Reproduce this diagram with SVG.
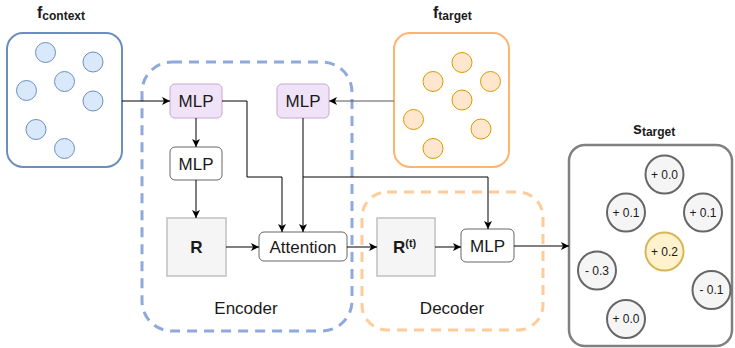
<svg xmlns="http://www.w3.org/2000/svg" width="735" height="348" viewBox="0 0 735 348">
<defs>
<marker id="arr" markerWidth="10" markerHeight="10" refX="8" refY="4" orient="auto" markerUnits="userSpaceOnUse">
<path d="M0,0 L8,4 L0,8 L2,4 z" fill="#000"/>
</marker>
<style>
text{font-family:"Liberation Sans",Arial,sans-serif;fill:#1a1a1a}
.lbl{font-size:17px;text-anchor:middle}
.t{font-weight:bold}
.cb{fill:#dae8fc;stroke:#6c8ebf;stroke-width:1}
.co{fill:#ffe6cc;stroke:#d79b00;stroke-width:1}
.cs{fill:#f5f5f5;stroke:#666;stroke-width:2}
.cy{fill:#fff2cc;stroke:#d6b656;stroke-width:2}
.ct{font-size:12px;text-anchor:middle}
.mp{fill:#f1e3f7;stroke:#c8a6d6;stroke-width:1}
.mw{fill:#fff;stroke:#666;stroke-width:1}
.rb{fill:#f5f5f5;stroke:#c0c0c0;stroke-width:1.5}
.e{fill:none;stroke:#000;stroke-width:1;marker-end:url(#arr)}
</style>
</defs>

<g id="encoder">
<rect x="142" y="62" width="210" height="269" rx="30" fill="none" stroke="#8ea9db" stroke-width="3" stroke-dasharray="10 7"/>
<text class="lbl" x="246" y="314">Encoder</text>
</g>
<g id="decoder">
<rect x="362" y="192" width="181" height="138" rx="25" fill="none" stroke="#ffcc99" stroke-width="3" stroke-dasharray="10 7"/>
<text class="lbl" x="452" y="314">Decoder</text>
</g>

<g id="f-context">
<text x="37" y="18" class="t" style="font-size:16px">f<tspan dy="2" style="font-size:12px">context</tspan></text>
<rect x="7" y="33" width="115" height="134" rx="16" fill="#fff" stroke="#6c8ebf" stroke-width="2"/>
<circle class="cb" cx="45.5" cy="52.5" r="10"/>
<circle class="cb" cx="93" cy="62" r="10"/>
<circle class="cb" cx="64.5" cy="81.5" r="10"/>
<circle class="cb" cx="26.5" cy="90.5" r="10"/>
<circle class="cb" cx="93" cy="101" r="10"/>
<circle class="cb" cx="36" cy="129.5" r="10"/>
<circle class="cb" cx="64.5" cy="148.5" r="10"/>
</g>

<g id="f-target">
<text x="433" y="18" class="t" style="font-size:16px">f<tspan dy="2" style="font-size:12px">target</tspan></text>
<rect x="394" y="33" width="115" height="134" rx="16" fill="#fff" stroke="#ffb570" stroke-width="2"/>
<circle class="co" cx="462" cy="62.5" r="10"/>
<circle class="co" cx="433" cy="81.5" r="10"/>
<circle class="co" cx="490.5" cy="81.5" r="10"/>
<circle class="co" cx="462" cy="100" r="10"/>
<circle class="co" cx="413.5" cy="119.5" r="10"/>
<circle class="co" cx="481" cy="129" r="10"/>
<circle class="co" cx="433" cy="148.5" r="10"/>
</g>

<g id="s-target">
<text x="633" y="134" class="t" style="font-size:16px">s<tspan dy="2" style="font-size:12px">target</tspan></text>
<rect x="569" y="145" width="163" height="201" rx="16" fill="#fff" stroke="#808080" stroke-width="2.5"/>
<circle class="cs" cx="664.5" cy="174.5" r="19"/><text class="ct" x="664.5" y="178.5">+ 0.0</text>
<circle class="cs" cx="626" cy="212.5" r="19"/><text class="ct" x="626" y="216.5">+ 0.1</text>
<circle class="cs" cx="703" cy="212.5" r="19"/><text class="ct" x="703" y="216.5">+ 0.1</text>
<circle class="cy" cx="664.5" cy="251.5" r="19"/><text class="ct" x="664.5" y="255.5">+ 0.2</text>
<circle class="cs" cx="597" cy="270.5" r="19"/><text class="ct" x="597" y="274.5">- 0.3</text>
<circle class="cs" cx="711.5" cy="290" r="19"/><text class="ct" x="711.5" y="294">- 0.1</text>
<circle class="cs" cx="626" cy="319" r="19"/><text class="ct" x="626" y="323">+ 0.0</text>
</g>

<g id="mlp-context">
<rect class="mp" x="170" y="84" width="52" height="34" rx="5"/>
<text class="lbl" x="196" y="107">MLP</text>
</g>
<g id="mlp-target">
<rect class="mp" x="277" y="84" width="52" height="34" rx="5"/>
<text class="lbl" x="303" y="107">MLP</text>
</g>
<g id="mlp-2">
<rect class="mw" x="170" y="147" width="52" height="33" rx="5"/>
<text class="lbl" x="196" y="169.5">MLP</text>
</g>
<g id="r">
<rect class="rb" x="167" y="218" width="59" height="58"/>
<text class="lbl t" x="196.5" y="253">R</text>
</g>
<g id="attention">
<rect class="mw" x="259" y="232" width="88" height="29" rx="5"/>
<text class="lbl" x="303" y="252.5">Attention</text>
</g>
<g id="r-t">
<rect class="rb" x="377" y="218" width="58" height="58"/>
<text class="t" x="393" y="253" style="font-size:17px">R<tspan dy="-6" style="font-size:11px">(t)</tspan></text>
</g>
<g id="mlp-decoder">
<rect class="mw" x="461" y="229" width="53" height="33" rx="5"/>
<text class="lbl" x="487.5" y="251.5">MLP</text>
</g>

<g id="connectors">
<path class="e" d="M122,101 H170"/>
<path class="e" d="M394,101 H329" style="stroke:#555"/>
<path class="e" d="M196,118 V147"/>
<path class="e" d="M196,180 V218"/>
<path class="e" d="M226,247 H259"/>
<path class="e" d="M222,101 H247 V177 H282 V232"/>
<path class="e" d="M303,118 V232"/>
<path class="e" d="M303,177 H488 V229"/>
<path class="e" d="M347,247 H377"/>
<path class="e" d="M435,247 H461"/>
<path class="e" d="M514,246 H569"/>
</g>
</svg>
